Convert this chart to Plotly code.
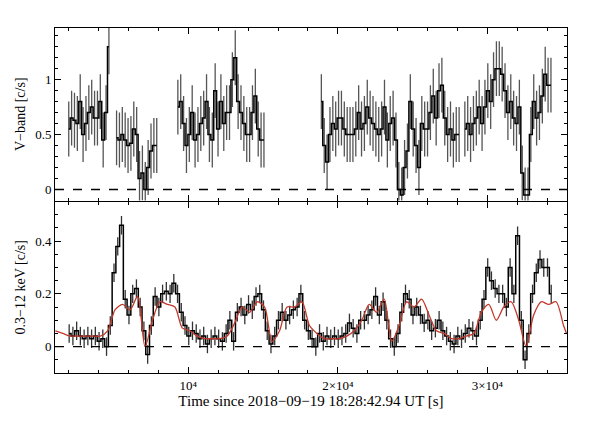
import plotly.graph_objects as go

# ---- Top panel (V-band) : segments (start time, bin width, values, errors)
v_seg_starts = [1900, 5100, 9200, 18800, 28400]
v_binw = 192
v_seg1 = [0.55,0.65,0.63,0.6,0.8,0.5,0.6,0.7,0.75,0.65,0.65,0.8,0.45,0.7,1.3]
v_seg2 = [0.47,0.45,0.5,0.45,0.4,0.42,0.55,0.5,0.1,0.15,0.0,0.2,0.35,0.4,0.4]
v_seg3 = [0.75,0.8,0.6,0.4,0.5,0.7,0.45,0.5,0.6,0.65,0.8,0.5,0.45,0.9,0.55,
          0.8,0.6,0.7,0.7,1.0,1.2,0.8,0.7,0.6,0.5,0.5,0.7,0.85,0.55,0.45,0.45]
v_seg4 = [0.8,0.4,0.25,0.5,0.6,0.55,0.65,0.65,0.55,0.5,0.5,0.5,0.55,0.7,0.55,0.6,
          0.75,0.65,0.6,0.55,0.5,0.55,0.75,0.45,0.6,0.65,0.45,0.0,-0.05,0.2,0.35,0.8,
          0.55,0.4,0.2,0.6,0.55,0.55,0.7,0.85,0.65,0.9,0.95,0.65,0.5,0.55,0.45,0.5,0.5]
v_seg5 = [0.55,0.6,0.5,0.6,0.65,0.75,0.6,0.75,0.9,0.8,1.0,1.1,1.1,1.05,0.9,0.7,0.8,
          0.65,0.6,0.75,0.15,-0.05,-0.05,0.5,0.8,0.65,0.7,0.85,1.05,0.95,0.95]
v_err = 0.25

# ---- Bottom panel (0.3-12 keV)
x_start = 1900
x_binw = 250
x_vals = [0.05,0.04,0.06,0.04,0.03,0.04,0.03,0.04,0.02,0.03,0.00,0.08,0.28,0.38,0.46,0.18,
          0.12,0.2,0.22,0.15,0.06,-0.03,0.08,0.19,0.15,0.2,0.21,0.2,0.24,0.2,0.13,0.08,
          0.04,0.06,0.05,0.03,0.04,0.01,0.03,0.04,0.03,0.02,0.05,0.1,0.02,0.13,0.15,0.12,
          0.16,0.14,0.19,0.2,0.14,0.06,0.01,0.04,0.1,0.13,0.1,0.12,0.14,0.15,0.2,0.1,
          0.06,0.03,0.0,0.05,0.02,0.04,0.03,0.04,0.03,0.04,0.05,0.09,0.07,0.05,0.1,0.1,
          0.12,0.14,0.19,0.12,0.17,0.1,0.03,0.0,0.05,0.13,0.2,0.18,0.12,0.15,0.12,0.09,
          0.1,0.06,0.07,0.1,0.06,0.04,0.02,0.01,0.04,0.03,0.05,0.07,0.06,0.04,0.1,0.18,
          0.3,0.25,0.22,0.2,0.2,0.15,0.3,0.2,0.42,0.1,-0.05,0.05,0.2,0.28,0.33,0.3,0.3,0.2]
x_err = 0.035

# ---- Model curve (red)
m_t = list(range(1100, 35101, 500)) + [35300]
m_v = [0.06,0.05,0.04,0.04,0.04,0.04,0.04,0.06,0.14,0.16,0.14,0.19,0.0,0.1,0.17,0.16,0.15,
       0.07,0.06,0.04,0.03,0.03,0.03,0.04,0.09,0.15,0.13,0.17,0.15,0.02,0.06,0.15,0.15,0.17,
       0.08,0.05,0.03,0.03,0.03,0.04,0.06,0.1,0.16,0.13,0.18,0.02,0.08,0.17,0.15,0.18,0.12,
       0.06,0.05,0.03,0.03,0.04,0.05,0.13,0.16,0.1,0.15,0.17,0.1,0.0,0.12,0.17,0.16,0.17,0.08,0.05]
m_v = m_v[:len(m_t)]

FONT = "Liberation Serif"
fig = go.Figure()

def add_steps(starts_vals, binw, err, yaxis, xaxis, ecolor):
    xs, ys, cx, cy = [], [], [], []
    for start, vals in starts_vals:
        for i, v in enumerate(vals):
            c = start + (i + 0.5) * binw
            cx.append(c); cy.append(v)
            xs.append(c); ys.append(v)
        xs.append(None); ys.append(None)
    fig.add_trace(go.Scatter(x=cx, y=cy, mode="markers", marker=dict(size=0.1, color="black"),
                             error_y=dict(type="constant", value=err, color=ecolor, thickness=1.3, width=0),
                             xaxis=xaxis, yaxis=yaxis, showlegend=False, hoverinfo="skip"))
    fig.add_trace(go.Scatter(x=xs, y=ys, mode="lines", line=dict(color="black", width=1.5, shape="hvh"),
                             connectgaps=False, xaxis=xaxis, yaxis=yaxis, showlegend=False))

add_steps(list(zip(v_seg_starts, [v_seg1, v_seg2, v_seg3, v_seg4, v_seg5])), v_binw, v_err, "y", "x", "#555")
add_steps([(x_start, x_vals)], x_binw, x_err, "y2", "x2", "#333")
fig.add_trace(go.Scatter(x=m_t, y=m_v, mode="lines", line=dict(color="#c0392b", width=1.3, shape="spline", smoothing=0.8),
                         xaxis="x2", yaxis="y2", showlegend=False))

for ax in ["x", "x2"]:
    fig.add_shape(type="line", xref=ax, yref="y" if ax == "x" else "y2", x0=1077, x1=35330, y0=0, y1=0,
                  line=dict(color="black", width=1.3, dash="dash"))

common = dict(showgrid=False, zeroline=False, showline=True, linecolor="black", linewidth=1, mirror="ticks",
              ticks="inside", ticklen=6, tickcolor="black", automargin=False,
              tickfont=dict(family=FONT, size=13, color="black"))
xr = [1077, 35330]
fig.update_layout(
    width=610, height=427, plot_bgcolor="white", paper_bgcolor="white",
    margin=dict(l=47, r=51, t=20, b=62),
    font=dict(family=FONT),
    xaxis=dict(**common, range=xr, domain=[0, 1], anchor="y", showticklabels=False,
               tickvals=[10000, 20000, 30000], minor=dict(dtick=2000, tick0=0, ticks="inside", ticklen=3)),
    yaxis=dict(**common, range=[-0.1, 1.47], domain=[0.5, 1], anchor="x",
               tickvals=[0, 0.5, 1], ticktext=["0", "0.5", "1"],
               minor=dict(dtick=0.1, tick0=0, ticks="inside", ticklen=3),
               title=dict(text="V−band [c/s]", font=dict(family=FONT, size=14, color="black"), standoff=6)),
    xaxis2=dict(**common, range=xr, domain=[0, 1], anchor="y2",
                tickvals=[10000, 20000, 30000], ticktext=["10⁴", "2×10⁴", "3×10⁴"],
                minor=dict(dtick=2000, tick0=0, ticks="inside", ticklen=3),
                title=dict(text="Time since 2018−09−19 18:28:42.94 UT [s]", font=dict(family=FONT, size=15, color="black"), standoff=2)),
    yaxis2=dict(**common, range=[-0.1, 0.55], domain=[0, 0.497], anchor="x2",
                tickvals=[0, 0.2, 0.4], ticktext=["0", "0.2", "0.4"],
                minor=dict(dtick=0.05, tick0=0, ticks="inside", ticklen=3),
                title=dict(text="0.3−12 keV [c/s]", font=dict(family=FONT, size=14, color="black"), standoff=6)),
)
fig.write_html("out.html")
